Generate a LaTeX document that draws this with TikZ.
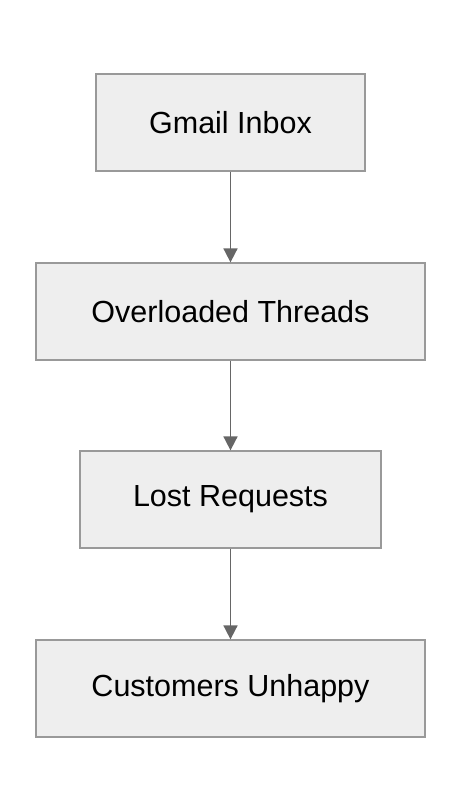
\documentclass[tikz,border=0pt]{standalone}
\usepackage{fontspec}
\setmainfont{Liberation Sans}
\usepackage{tikz}
\usetikzlibrary{arrows.meta}
\definecolor{boxfill}{HTML}{EEEEEE}
\definecolor{boxline}{HTML}{999999}
\definecolor{arrowline}{HTML}{666666}

\begin{document}
\begin{tikzpicture}[x=1pt,y=-1pt,
  box/.style={draw=boxline,fill=boxfill,line width=1.3pt,minimum height=97pt,
    inner sep=0pt,font=\fontsize{30.5}{36}\selectfont},
  flow/.style={draw=arrowline,line width=1.8pt,-{Triangle[length=14pt,width=14pt]}}]
\useasboundingbox (0,0) rectangle (462,812);

\node[box,minimum width=269pt] (gmail) at (230.5,122.5) {Gmail Inbox};
\node[box,minimum width=389pt] (threads) at (230.5,311.5) {Overloaded Threads};
\node[box,minimum width=301pt] (lost) at (230.5,499.5) {Lost Requests};
\node[box,minimum width=389pt] (unhappy) at (230.5,688.5) {Customers Unhappy};

\draw[flow] (gmail) -- (threads);
\draw[flow] (threads) -- (lost);
\draw[flow] (lost) -- (unhappy);

\end{tikzpicture}
\end{document}
